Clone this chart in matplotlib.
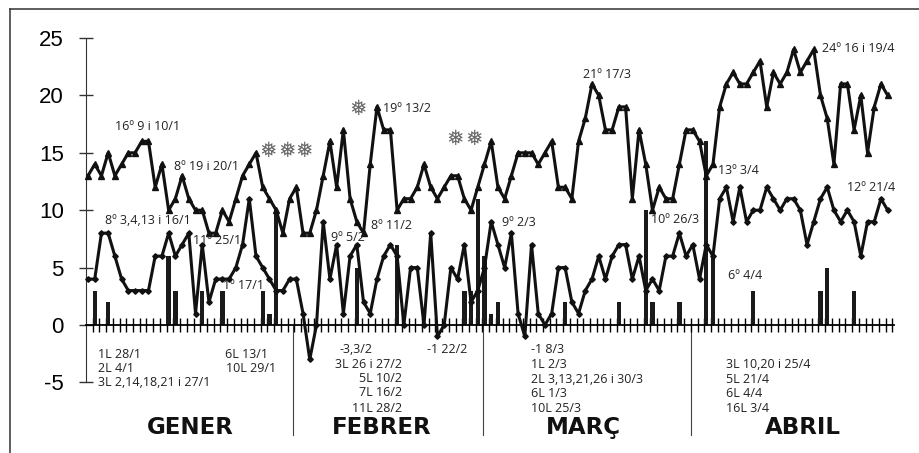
import matplotlib
matplotlib.use('Agg')
import numpy as np
import matplotlib.pyplot as plt

plt.rcParams['axes.unicode_minus'] = False

# daily temperatures, 1 January to 30 April
tmax = [13, 14, 13, 15, 13, 14, 15, 15, 16, 16, 12, 14, 10, 11, 13, 11, 10, 10, 8, 8,
        10, 9, 11, 13, 14, 15, 12, 11, 10, 8, 11,
        12, 8, 8, 10, 13, 16, 12, 17, 11, 9, 8, 14, 19, 17, 17, 10, 11, 11, 12,
        14, 12, 11, 12, 13, 13, 11, 10, 12,
        14, 16, 12, 11, 13, 15, 15, 15, 14, 15, 16, 12, 12, 11, 16, 18, 21, 20, 17, 17, 19,
        19, 11, 17, 14, 10, 12, 11, 11, 14, 17,
        17, 16, 13, 14, 19, 21, 22, 21, 21, 22, 23, 19, 22, 21, 22, 24, 22, 23, 24, 20,
        18, 14, 21, 21, 17, 20, 15, 19, 21, 20]
tmin = [4, 4, 8, 8, 6, 4, 3, 3, 3, 3, 6, 6, 8, 6, 7, 8, 1, 7, 2, 4,
        4, 4, 5, 7, 11, 6, 5, 4, 3, 3, 4,
        4, 1, -3, 0, 9, 4, 7, 1, 6, 7, 2, 1, 4, 6, 7, 6, 0, 5, 5,
        0, 8, -1, 0, 5, 4, 7, 2, 3,
        5, 9, 7, 5, 8, 1, -1, 7, 1, 0, 1, 5, 5, 2, 1, 3, 4, 6, 4, 6, 7,
        7, 4, 6, 3, 4, 3, 6, 6, 8, 6,
        7, 4, 7, 6, 11, 12, 9, 12, 9, 10, 10, 12, 11, 10, 11, 11, 10, 7, 9, 11,
        12, 10, 9, 10, 9, 6, 9, 9, 11, 10]

# rain days (day of the period) and litres
rain_days = [2, 4, 13, 14, 18, 21, 27, 28, 29,
             41, 47, 57, 58, 59,
             60, 61, 62, 72, 80, 84, 85, 89,
             93, 94, 100, 110, 111, 115]
rain_l = [3, 2, 6, 3, 3, 3, 3, 1, 10,
          5, 7, 3, 3, 11,
          6, 1, 2, 2, 2, 10, 2, 2,
          16, 6, 3, 3, 5, 3]

months = ['GENER', 'FEBRER', 'MARÇ', 'ABRIL']
month_x = [16.2, 44.75, 74.7, 107.4]
month_bounds = [31.46, 59.8, 90.7]
yticks = [-5, 0, 5, 10, 15, 20, 25]

# text notes: x in days, y in degrees, ha
notes = [
    ('16º 9 i 10/1', 5.0, 17.25, 'left'),
    ('8º 19 i 20/1', 13.8, 13.85, 'left'),
    ('8º 3,4,13 i 16/1', 3.6, 9.06, 'left'),
    ('11º 25/1', 16.6, 7.34, 'left'),
    ('1º 17/1', 21.1, 3.4, 'left'),
    ('19º 13/2', 44.9, 18.9, 'left'),
    ('8º 11/2', 43.1, 8.7, 'left'),
    ('9º 5/2', 37.2, 7.6, 'left'),
    ('21º 17/3', 74.6, 21.86, 'left'),
    ('9º 2/3', 62.6, 8.9, 'left'),
    ('10º 26/3', 84.8, 9.2, 'left'),
    ('13º 3/4', 94.75, 13.44, 'left'),
    ('6º 4/4', 96.2, 4.35, 'left'),
    ('24º 16 i 19/4', 110.3, 24.1, 'left'),
    ('12º 21/4', 114.0, 11.96, 'left'),
]
rain_notes = [
    ('1L 28/1', 2.5, -2.55, 'left'),
    ('2L 4/1', 2.5, -3.83, 'left'),
    ('3L 2,14,18,21 i 27/1', 2.5, -5.05, 'left'),
    ('6L 13/1', 21.4, -2.55, 'left'),
    ('10L 29/1', 21.5, -3.83, 'left'),
    ('-3,3/2', 43.3, -2.1, 'right'),
    ('3L 26 i 27/2', 47.7, -3.4, 'right'),
    ('5L 10/2', 47.7, -4.68, 'right'),
    ('7L 16/2', 47.7, -5.92, 'right'),
    ('11L 28/2', 47.7, -7.23, 'right'),
    ('-1 22/2', 57.5, -2.1, 'right'),
    ('-1 8/3', 66.9, -2.1, 'left'),
    ('1L 2/3', 66.9, -3.48, 'left'),
    ('2L 3,13,21,26 i 30/3', 66.9, -4.79, 'left'),
    ('6L 1/3', 66.9, -6.0, 'left'),
    ('10L 25/3', 66.9, -7.29, 'left'),
    ('3L 10,20 i 25/4', 95.9, -3.48, 'left'),
    ('5L 21/4', 95.9, -4.79, 'left'),
    ('6L 4/4', 95.9, -6.0, 'left'),
    ('16L 3/4', 95.9, -7.29, 'left'),
]
flakes_x = [27.8, 30.6, 33.1, 41.2, 55.7, 58.4]
flakes_y = [15.2, 15.2, 15.2, 18.8, 16.2, 16.2]

days = np.arange(1, 121)

fig = plt.figure(figsize=(9.19, 4.53), dpi=100)
ax = fig.add_axes([0, 0, 1, 1])
ax.set_xlim(1 - 88 / 6.72, 1 + (919 - 88) / 6.72)
ax.set_ylim((325 - 453) / 11.48, 325 / 11.48)

# frame only on the top and the left of the picture
fig.add_artist(plt.Line2D([9.5 / 919, 9.5 / 919], [0, 1 - 9 / 453], color='#333333', lw=1.1))
fig.add_artist(plt.Line2D([9.5 / 919, 1], [1 - 9 / 453, 1 - 9 / 453], color='#333333', lw=1.1))

ax.spines['top'].set_visible(False)
ax.spines['right'].set_visible(False)
ax.spines['left'].set_position(('data', 0.63))
ax.spines['left'].set_bounds(-5, 25)
ax.spines['left'].set_color('#333333')
ax.spines['bottom'].set_position(('data', 0))
ax.spines['bottom'].set_bounds(0.63, 121)
ax.spines['bottom'].set_linewidth(1.3)

ax.set_yticks(yticks)
ax.tick_params(axis='y', direction='inout', length=10.5, width=1.0, color='#333333',
               labelsize=16, pad=10.5)
for lab in ax.get_yticklabels():
    lab.set_family('Liberation Sans')
ax.set_xticks(days + 0.7)
ax.tick_params(axis='x', direction='inout', length=9.5, width=1.0, labelbottom=False)

ax.bar(rain_days, rain_l, width=0.65, color='#1a1a1a', zorder=2)
ax.plot(days, tmax, color='#111111', lw=2.2, marker='^', ms=3.8, zorder=3)
ax.plot(days, tmin, color='#111111', lw=2.2, marker='D', ms=2.8, zorder=3)

for x in month_bounds:
    ax.plot([x, x], [0, -9.6], color='#444444', lw=0.8, zorder=1)

for txt, x, y, ha in notes + rain_notes:
    ax.text(x, y, txt, ha=ha, va='center', fontsize=9, color='#222222', family='Open Sans', zorder=4)

for x, y in zip(flakes_x, flakes_y):
    ax.text(x, y, '❅', ha='center', va='center', fontsize=15, color='#666666', family='DejaVu Sans')

for m, x in zip(months, month_x):
    ax.text(x, -8.97, m, ha='center', va='center', fontsize=16.5, fontweight='bold',
            color='#111111', family='DejaVu Sans')

fig.savefig('out.png', dpi=100, facecolor='white')
